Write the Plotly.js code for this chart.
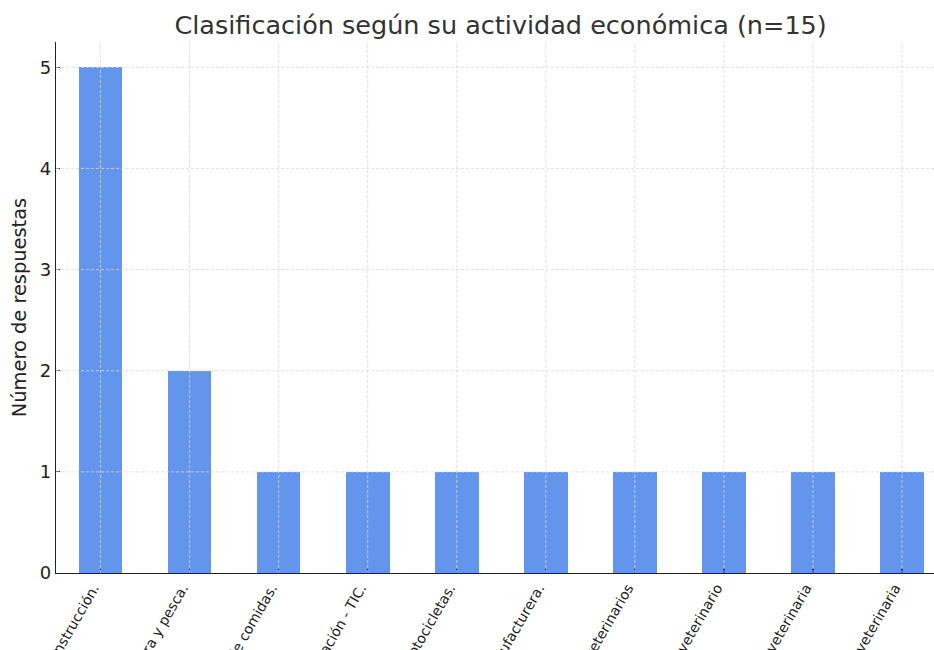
<!DOCTYPE html>
<html>
<head>
<meta charset="utf-8">
<script src="https://cdn.plot.ly/plotly-3.0.1.min.js"></script>
<style>html,body{margin:0;padding:0;overflow:hidden;background:#fff;}</style>
</head>
<body>
<div id="chart" style="width:934px;height:650px;"></div>
<script>
const categories = [
  "Construcción.",
  "Agricultura, ganadería, caza, silvicultura y pesca.",
  "Actividades de alojamiento y de servicio de comidas.",
  "Información y comunicación - TIC.",
  "Comercio al por mayor y al por menor; reparación de vehículos automotores y motocicletas.",
  "Industria manufacturera.",
  "Servicios veterinarios",
  "Consultorio veterinario",
  "Clínica veterinaria",
  "Medicina veterinaria"
];
const counts = [5, 2, 1, 1, 1, 1, 1, 1, 1, 1];
const yTicks = [0, 1, 2, 3, 4, 5];

const idx = categories.map((_, i) => i);
const gridStyle = {color: "#d8d8d8", width: 0.8, dash: "3px,2px"};
const shapes = [];
idx.forEach(i => shapes.push({type: "line", layer: "above", xref: "x", yref: "paper",
  x0: i, x1: i, y0: 0, y1: 1, line: gridStyle}));
yTicks.slice(1).forEach(v => shapes.push({type: "line", layer: "above", xref: "paper", yref: "y",
  x0: 0, x1: 1, y0: v, y1: v, line: gridStyle}));

const data = [{
  type: "bar",
  x: idx,
  y: counts,
  width: 0.49,
  marker: {color: "#6495ED", line: {width: 0}},
  hoverinfo: "skip"
}];

const layout = {
  width: 934, height: 650,
  margin: {l: 56, r: 0, t: 42, b: 77, pad: 0},
  paper_bgcolor: "#fff", plot_bgcolor: "#fff",
  font: {family: "DejaVu Sans", color: "#222"},
  title: {text: "Clasificación según su actividad económica (n=15)",
    font: {family: "DejaVu Sans", size: 25.5, color: "#333"},
    x: 0.536, xanchor: "center", y: 0.962, yanchor: "middle"},
  showlegend: false,
  bargap: 0,
  xaxis: {
    range: [-0.5, 9.359], automargin: false,
    tickmode: "array", tickvals: idx, ticktext: categories,
    tickangle: -60, tickfont: {size: 14, color: "#222"},
    ticklabelshift: -7,
    ticks: "inside", ticklen: 4, tickwidth: 1.2, tickcolor: "#222",
    showgrid: false, zeroline: false,
    showline: true, linecolor: "#222", linewidth: 1.3,
    layer: "above traces"
  },
  yaxis: {
    range: [0, 5.25], automargin: false,
    tickmode: "array", tickvals: yTicks, ticktext: yTicks.map(String),
    tickfont: {size: 18, color: "#222"},
    ticks: "inside", ticklen: 4, tickwidth: 1.2, tickcolor: "#222",
    showgrid: false, zeroline: false,
    showline: true, linecolor: "#222", linewidth: 1.3,
    title: {text: "Número de respuestas", font: {size: 19.4, color: "#222"}, standoff: 8},
    layer: "above traces"
  },
  shapes: shapes
};

Plotly.newPlot("chart", data, layout, {displayModeBar: false, staticPlot: true});
</script>
</body>
</html>
